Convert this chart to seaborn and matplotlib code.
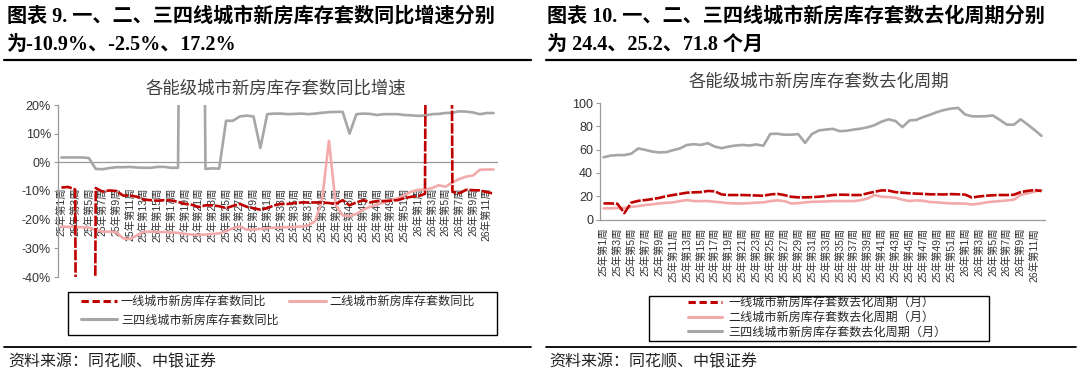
import seaborn as sns
import matplotlib.pyplot as plt
import numpy as np
import pandas as pd
from matplotlib.lines import Line2D
from matplotlib.patches import Rectangle

weeks = [f"25年第{i}周" for i in range(1, 53)] + [f"26年第{i}周" for i in range(1, 13)]

# 新房库存套数同比(%)，超出坐标轴范围的点在图中被截断
yoy_t1 = [-8.8, -8.6, -9.5, -500, -500, -9.0, -10.2, -9.8, -10.0, -11.6,
          -11.6, -12.0, -13.0, -13.2, -13.4, -13.2, -13.3, -13.8, -14.5, -14.8,
          -15.6, -15.0, -15.0, -15.3, -16.0, -15.2, -14.5, -15.5, -16.0, -16.5,
          -16.0, -15.0, -14.5, -14.5, -14.2, -14.0, -14.0, -14.0, -14.0, -14.2,
          -14.5, -13.2, -15.0, -14.0, -13.2, -14.0, -13.5, -13.5, -13.4, -13.2,
          -12.5, -12.0, -11.8, -11.0, 500, 500, 500, -10.3, -10.8, -9.6,
          -9.7, -9.8, -10.4, -10.9]
yoy_t2 = [-22.5, -22.5, -22.6, -22.6, -22.8, -23.5, -24.2, -24.2, -24.4, -26.5,
          -26.8, -25.5, -24.2, -24.2, -24.3, -24.3, -24.5, -24.6, -25.0, -25.2,
          -25.3, -25.2, -25.0, -24.8, -24.0, -23.0, -22.4, -23.5, -23.4, -23.2,
          -23.0, -22.8, -22.7, -22.6, -22.5, -22.4, -22.0, -20.5, -13.0, 7.5,
          -15.0, -18.5, -18.8, -18.0, -16.5, -15.5, -14.8, -14.0, -13.2, -12.6,
          -11.5, -10.2, -9.6, -9.5, -9.0, -8.0, -8.5, -7.0, -5.8, -5.0,
          -4.6, -2.6, -2.5, -2.5]
yoy_t34 = [1.7, 1.7, 1.7, 1.7, 1.5, -2.3, -2.4, -2.0, -1.7, -1.7,
           -1.6, -1.8, -1.9, -1.9, -1.6, -1.6, -1.9, -1.9, 300, 300,
           300, -2.3, -2.1, -2.2, 14.5, 14.5, 16.0, 16.3, 16.0, 5.0,
           16.8, 17.0, 17.0, 16.8, 16.9, 17.0, 16.8, 17.0, 17.3, 17.5,
           17.6, 17.6, 10.0, 16.8, 17.0, 16.9, 16.5, 16.8, 16.8, 16.8,
           16.5, 16.4, 16.2, 16.3, 16.8, 16.9, 17.2, 17.3, 17.8, 17.7,
           17.4, 16.8, 17.2, 17.2]

# 新房库存套数去化周期(月)
cyc_t1 = [13.8, 13.8, 13.5, 5.5, 14.5, 16.0, 16.7, 17.5, 18.5, 20.0,
          21.0, 22.0, 23.0, 23.3, 23.5, 24.5, 24.2, 21.5, 21.0, 21.0,
          21.0, 20.8, 20.6, 20.4, 21.5, 22.0, 21.0, 19.5, 19.0, 19.0,
          19.2, 19.5, 20.2, 21.0, 21.3, 21.2, 21.0, 21.0, 22.5, 23.8,
          25.0, 24.8, 23.5, 23.0, 22.5, 22.2, 22.0, 21.6, 21.6, 21.5,
          21.8, 21.6, 21.4, 18.8, 19.8, 20.4, 20.8, 21.0, 21.0, 21.2,
          23.5, 24.6, 25.3, 24.4]
cyc_t2 = [9.5, 9.6, 9.8, 10.0, 10.8, 11.5, 12.4, 13.0, 13.8, 14.3,
          14.7, 15.8, 16.7, 15.8, 15.8, 15.8, 15.2, 14.7, 14.0, 13.8,
          13.8, 14.0, 14.5, 14.7, 15.8, 16.4, 15.8, 13.8, 14.0, 14.7,
          15.2, 15.3, 15.5, 15.8, 15.8, 15.8, 15.8, 16.5, 18.1, 21.0,
          19.5, 19.3, 18.7, 17.0, 15.8, 16.4, 16.0, 15.0, 14.7, 14.2,
          13.8, 13.8, 13.6, 12.9, 13.5, 14.7, 15.3, 15.8, 16.3, 17.0,
          21.0, 22.5, 24.0, 25.2]
cyc_t34 = [53.4, 54.8, 55.3, 55.3, 56.5, 61.0, 59.8, 58.3, 57.6, 57.8,
           59.5, 61.0, 64.0, 64.6, 64.0, 65.5, 62.6, 61.2, 62.6, 63.5,
           64.0, 63.5, 64.4, 63.3, 73.5, 73.6, 72.8, 72.8, 73.3, 65.8,
           73.5, 76.5, 77.2, 77.8, 75.8, 76.2, 77.2, 78.0, 79.2, 81.0,
           84.0, 86.0, 84.5, 79.3, 85.0, 85.5, 88.0, 90.0, 92.3, 94.0,
           95.2, 95.8, 90.2, 88.6, 88.5, 88.7, 89.3, 85.5, 81.5, 81.3,
           86.0, 81.5, 76.8, 71.8]

yoy_names = ["一线城市新房库存套数同比", "二线城市新房库存套数同比", "三四线城市新房库存套数同比"]
cyc_names = ["一线城市新房库存套数去化周期（月）", "二线城市新房库存套数去化周期（月）",
             "三四线城市新房库存套数去化周期（月）"]

RED = "#C00000"
PINK = "#F2AAAA"
GRAY = "#A6A6A6"
AXIS = "#9A9A9A"
TXT = "#333333"
CJK = "Noto Sans CJK SC"

sns.set_style("white")
plt.rcParams['font.family'] = ['Liberation Sans', CJK]
plt.rcParams['axes.unicode_minus'] = False

W, H = 1080, 374
fig = plt.figure(figsize=(W / 100, H / 100), dpi=100)


def px_axes(x0, y0, x1, y1):
    return fig.add_axes([x0 / W, 1 - y1 / H, (x1 - x0) / W, (y1 - y0) / H])


def fy(y):
    return 1 - y / H


def draw_lines(ax, t1, t2, t34):
    df = pd.DataFrame({"idx": np.arange(len(weeks)), "t1": t1, "t2": t2, "t34": t34})
    sns.lineplot(data=df, x="idx", y="t34", ax=ax, color=GRAY, linewidth=1.9, zorder=3)
    sns.lineplot(data=df, x="idx", y="t2", ax=ax, color=PINK, linewidth=1.9, zorder=4)
    sns.lineplot(data=df, x="idx", y="t1", ax=ax, color=RED, linewidth=1.9, zorder=5,
                 linestyle=(0, (4, 0.7)))


def style_axes(ax, pad):
    for s in ['top', 'right']:
        ax.spines[s].set_visible(False)
    for s in ['left', 'bottom']:
        ax.spines[s].set_color(AXIS)
        ax.spines[s].set_linewidth(0.9)
    ax.set_xlim(-0.5, len(weeks) - 0.5)
    ax.set_xticks(np.arange(0, len(weeks), 2))
    ax.set_xticklabels(weeks[::2])
    ax.set_xticks(np.arange(-0.5, len(weeks), 1), minor=True)
    ax.tick_params(axis='x', which='major', length=0, pad=pad, labelsize=7.5,
                   labelcolor=TXT, labelrotation=90)
    ax.tick_params(axis='x', which='minor', length=3, width=0.8, color=AXIS, direction='out')
    ax.tick_params(axis='y', length=3, width=0.8, color=AXIS, labelsize=9, labelcolor=TXT,
                   pad=2, direction='out', left=True)
    ax.set_xlabel("")
    ax.set_ylabel("")
    ax.grid(False)


def legend_handles():
    return [Line2D([], [], color=RED, linewidth=2.2, linestyle=(0, (2.4, 1.2))),
            Line2D([], [], color=PINK, linewidth=2.2),
            Line2D([], [], color=GRAY, linewidth=2.2)]


# ---- 左图：同比增速
ax1 = px_axes(58, 105, 497, 277)
draw_lines(ax1, yoy_t1, yoy_t2, yoy_t34)
ax1.set_ylim(-40, 20)
ax1.spines['bottom'].set_position(('data', 0))
ax1.set_yticks(range(-40, 21, 10))
ax1.set_yticklabels([f"{v}%" for v in range(-40, 21, 10)])
style_axes(ax1, pad=18)

h = legend_handles()
ax1.legend([h[0], h[2], h[1]], [yoy_names[0], yoy_names[2], yoy_names[1]], ncol=2,
           loc='upper left', bbox_to_anchor=(81 / W, fy(295)), bbox_transform=fig.transFigure,
           frameon=False, handlelength=3.0, handletextpad=0.3, columnspacing=0.9,
           labelspacing=0.45, borderpad=0, borderaxespad=0,
           prop={'family': CJK, 'size': 8.7})
fig.add_artist(Rectangle((68 / W, fy(335)), 429 / W, 43 / H, transform=fig.transFigure,
                         fill=False, edgecolor='black', linewidth=1.0))

# ---- 右图：去化周期
ax2 = px_axes(600, 103, 1045, 219.5)
draw_lines(ax2, cyc_t1, cyc_t2, cyc_t34)
ax2.set_ylim(0, 100)
ax2.set_yticks(range(0, 101, 20))
style_axes(ax2, pad=6)

ax2.legend(legend_handles(), cyc_names, loc='upper left',
           bbox_to_anchor=(688 / W, fy(296)), bbox_transform=fig.transFigure,
           frameon=False, handlelength=2.85, handletextpad=0.5, labelspacing=0.15,
           borderpad=0, borderaxespad=0, prop={'family': CJK, 'size': 8.7})
fig.add_artist(Rectangle((649 / W, fy(341)), 340 / W, 45 / H, transform=fig.transFigure,
                         fill=False, edgecolor='black', linewidth=1.0))

# ---- 图内标题
fig.text(276 / W, fy(89), "各能级城市新房库存套数同比增速", ha='center', va='center',
         fontsize=12.5, color='#404040', family=CJK)
fig.text(819 / W, fy(82), "各能级城市新房库存套数去化周期", ha='center', va='center',
         fontsize=12.5, color='#404040', family=CJK)

# ---- 报告表头与资料来源
head = dict(fontsize=14.5, fontweight='bold', color='black',
            family=['Liberation Serif', CJK], ha='left', va='center')
fig.text(7 / W, fy(17), "图表 9. 一、二、三四线城市新房库存套数同比增速分别", **head)
fig.text(7 / W, fy(45), "为-10.9%、-2.5%、17.2%", **head)
fig.text(547 / W, fy(17), "图表 10. 一、二、三四线城市新房库存套数去化周期分别", **head)
fig.text(547 / W, fy(45), "为 24.4、25.2、71.8 个月", **head)

for x0, x1 in [(4, 531), (546, 1076)]:
    fig.add_artist(Line2D([x0 / W, x1 / W], [fy(60), fy(60)], color='black', linewidth=1.6))
    fig.add_artist(Line2D([x0 / W, x1 / W], [fy(346.5), fy(346.5)], color='black', linewidth=1.3))

src = dict(fontsize=11.5, color='#222222', family=CJK, ha='left', va='center', style='italic')
fig.text(8 / W, fy(362), "资料来源：同花顺、中银证券", **src)
fig.text(549 / W, fy(362), "资料来源：同花顺、中银证券", **src)

fig.savefig("out.png", dpi=100)
